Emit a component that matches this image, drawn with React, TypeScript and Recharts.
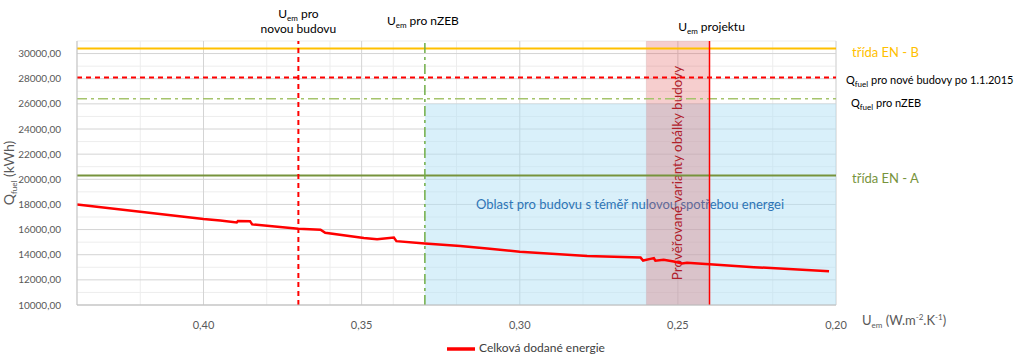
import { ComposedChart, Line, XAxis, YAxis, CartesianGrid, ReferenceLine, ReferenceArea, Legend } from 'recharts';

// U_em values (x) and total delivered energy Q_fuel (y)
const uem = [
  0.44, 0.40, 0.3947, 0.3895, 0.3891, 0.3853, 0.3846, 0.37, 0.363, 0.3615,
  0.3493, 0.3451, 0.3398, 0.339, 0.33, 0.3188, 0.3103, 0.30, 0.2787, 0.2618,
  0.261, 0.2587, 0.2576, 0.2571, 0.2545, 0.2513, 0.2487, 0.2471, 0.24, 0.226, 0.2022
];
const qfuel = [
  18000, 16840, 16720, 16560, 16690, 16670, 16410, 16060, 15990, 15750,
  15330, 15230, 15360, 15080, 14890, 14690, 14500, 14240, 13900, 13770,
  13540, 13670, 13720, 13520, 13590, 13460, 13300, 13360, 13250, 13010, 12680
];

const yTicks = [10000, 12000, 14000, 16000, 18000, 20000, 22000, 24000, 26000, 28000, 30000];
const xTicks = [0.20, 0.25, 0.30, 0.35, 0.40];

// reference levels
const tridaB = 30400;
const qfuelNew = 28100;
const qfuelNzeb = 26400;
const tridaA = 20300;
const uemNew = 0.37;
const uemNzeb = 0.33;
const uemProject = 0.24;
const variantsFrom = 0.26;
const nzebAreaTop = 26000;

const data = uem.map((u, i) => ({ u, q: qfuel[i] }));

// grid helpers
const minorY: number[] = [];
for (let v = 10000; v <= 31000; v += 500) minorY.push(v);
const minorX: number[] = [];
for (let i = 20; i <= 44; i++) minorX.push(i / 100);

const fmt2 = (v: number) => v.toFixed(2).replace('.', ',');
const FONT = 'Lato, "Open Sans", sans-serif';

const Uem = ({ rest }: { rest: string }) => (
  <>
    <tspan>U</tspan>
    <tspan dy={3} fontSize={8}>em</tspan>
    <tspan dy={-3}>{rest}</tspan>
  </>
);

const Qfuel = ({ rest }: { rest: string }) => (
  <>
    <tspan>Q</tspan>
    <tspan dy={3} fontSize={8}>fuel</tspan>
    <tspan dy={-3}>{rest}</tspan>
  </>
);

const rightLabel = (text: React.ReactNode, color: string, dx: number, dy: number, size = 13) => (props: any) => {
  const vb = props.viewBox;
  return (
    <text x={vb.x + vb.width + dx} y={vb.y + dy} fill={color} fontSize={size} fontFamily={FONT}>
      {text}
    </text>
  );
};

export default function App() {
  return (
    <div style={{ width: 1024, height: 361, background: '#fff', fontFamily: FONT }}>
      <style>{'body{margin:0}'}</style>
      <ComposedChart width={1024} height={361} data={data} margin={{ top: 41, right: 188, left: 10, bottom: 0 }}>
        <CartesianGrid horizontalValues={minorY} verticalValues={minorX} stroke="#ededed" strokeWidth={1} />
        <CartesianGrid horizontalValues={yTicks} verticalValues={xTicks} stroke="#d4d4d4" strokeWidth={1} fill="none" />
        <XAxis
          type="number"
          dataKey="u"
          domain={[0.20, 0.44]}
          reversed
          ticks={xTicks}
          tickFormatter={fmt2}
          allowDataOverflow
          height={30}
          tickLine={false}
          axisLine={{ stroke: '#bfbfbf' }}
          tick={{ fill: '#595959', fontSize: 11, fontFamily: FONT }}
          tickMargin={10}
          label={(props: any) => {
            const vb = props.viewBox;
            return (
              <text x={vb.x + vb.width + 26} y={vb.y + 20} fill="#595959" fontSize={13} fontFamily={FONT}>
                <tspan>U</tspan>
                <tspan dy={3} fontSize={8}>em</tspan>
                <tspan dy={-3}> (W.m</tspan>
                <tspan dy={-5} fontSize={8}>-2</tspan>
                <tspan dy={5}>.K</tspan>
                <tspan dy={-5} fontSize={8}>-1</tspan>
                <tspan dy={5}>)</tspan>
              </text>
            );
          }}
        />
        <YAxis
          type="number"
          domain={[10000, 31000]}
          ticks={yTicks}
          tickFormatter={fmt2}
          width={67}
          tickLine={false}
          axisLine={{ stroke: '#bfbfbf' }}
          tick={{ fill: '#595959', fontSize: 10, fontFamily: FONT }}
          tickMargin={10}
          label={(props: any) => {
            const vb = props.viewBox;
            const cx = 14;
            const cy = vb.y + vb.height / 2;
            return (
              <text x={cx} y={cy} transform={`rotate(-90 ${cx} ${cy})`} textAnchor="middle" fill="#595959" fontSize={14} fontFamily={FONT}>
                <Qfuel rest=" (kWh)" />
              </text>
            );
          }}
        />

        <ReferenceArea
          x1={uemNzeb}
          x2={0.20}
          y1={10000}
          y2={nzebAreaTop}
          fill="#b4e1f5"
          fillOpacity={0.5}
          stroke="none"
          label={(props: any) => {
            const vb = props.viewBox;
            return (
              <text x={630} y={vb.y + 105} textAnchor="middle" fill="#2e75b6" fontSize={13} fontFamily={FONT}>
                Oblast pro budovu s téměř nulovou spotřebou energei
              </text>
            );
          }}
        />
        <ReferenceArea
          x1={variantsFrom}
          x2={uemProject}
          y1={10000}
          y2={31000}
          fill="#e05050"
          fillOpacity={0.28}
          stroke="none"
          label={(props: any) => {
            const vb = props.viewBox;
            const cx = vb.x + vb.width / 2 + 4;
            const cy = vb.y + vb.height / 2;
            return (
              <text x={cx} y={cy} transform={`rotate(-90 ${cx} ${cy})`} textAnchor="middle" fill="#b0202a" fontSize={13.5} fontFamily={FONT}>
                Prověřované varianty obálky budovy
              </text>
            );
          }}
        />

        <ReferenceLine
          y={tridaB}
          stroke="#ffc000"
          strokeWidth={2}
          label={rightLabel('třída EN - B', '#ffc000', 16, 8)}
        />
        <ReferenceLine
          y={qfuelNew}
          stroke="#ff0000"
          strokeWidth={2}
          strokeDasharray="5 4"
          label={rightLabel(<Qfuel rest=" pro nové budovy po 1.1.2015" />, '#000000', 10, 7, 11)}
        />
        <ReferenceLine
          y={qfuelNzeb}
          stroke="#a5c46c"
          strokeWidth={1.5}
          strokeDasharray="10 4 3 4"
          label={rightLabel(<Qfuel rest=" pro nZEB" />, '#000000', 15, 8, 11)}
        />
        <ReferenceLine
          y={tridaA}
          stroke="#77933c"
          strokeWidth={2}
          label={rightLabel('třída EN - A', '#77933c', 16, 7)}
        />
        <ReferenceLine
          x={uemNew}
          stroke="#ff0000"
          strokeWidth={2}
          strokeDasharray="5 4"
          label={(props: any) => {
            const vb = props.viewBox;
            return (
              <text textAnchor="middle" fill="#000" fontSize={12} fontFamily={FONT}>
                <tspan x={vb.x} y={18}>U</tspan>
                <tspan dy={3} fontSize={8}>em</tspan>
                <tspan dy={-3}> pro</tspan>
                <tspan x={vb.x} y={33}>novou budovu</tspan>
              </text>
            );
          }}
        />
        <ReferenceLine
          x={uemNzeb}
          stroke="#70ad47"
          strokeWidth={1.5}
          strokeDasharray="10 4 3 4"
          label={(props: any) => {
            const vb = props.viewBox;
            return (
              <text x={vb.x - 2} y={25} textAnchor="middle" fill="#000" fontSize={12} fontFamily={FONT}>
                <Uem rest=" pro nZEB" />
              </text>
            );
          }}
        />
        <ReferenceLine
          x={uemProject}
          stroke="#ff0000"
          strokeWidth={1.5}
          label={(props: any) => {
            const vb = props.viewBox;
            return (
              <text x={vb.x + 2} y={31} textAnchor="middle" fill="#000" fontSize={12} fontFamily={FONT}>
                <Uem rest=" projektu" />
              </text>
            );
          }}
        />

        <Line
          type="linear"
          dataKey="q"
          name="Celková dodané energie"
          stroke="#ff0000"
          strokeWidth={2.5}
          dot={false}
          isAnimationActive={false}
        />
        <Legend
          verticalAlign="bottom"
          height={26}
          iconType="plainline"
          iconSize={28}
          wrapperStyle={{ fontSize: 12, fontFamily: FONT, left: 447, width: 'auto' }}
          formatter={(value: string) => <span style={{ color: '#404040' }}>{value}</span>}
        />
      </ComposedChart>
    </div>
  );
}
